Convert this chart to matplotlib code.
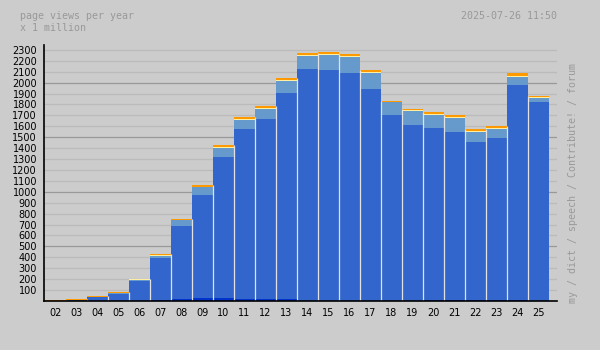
import matplotlib
matplotlib.use("Agg")
import matplotlib.pyplot as plt
import numpy as np

# Page views per year, in millions, stacked by segment
years = ["02", "03", "04", "05", "06", "07", "08", "09", "10", "11", "12", "13",
         "14", "15", "16", "17", "18", "19", "20", "21", "22", "23", "24", "25"]
base = [0, 0, 0, 0, 0, 8, 18, 28, 30, 15, 15, 15,
        0, 0, 0, 0, 0, 0, 5, 5, 5, 5, 5, 0]
main = [3, 9, 33, 66, 182, 382, 665, 940, 1287, 1558, 1650, 1889,
        2124, 2115, 2087, 1940, 1701, 1609, 1578, 1540, 1449, 1486, 1972, 1821]
second = [0, 1, 2, 3, 13, 25, 56, 75, 82, 83, 92, 110,
          119, 137, 147, 147, 120, 130, 119, 129, 92, 82, 73, 37]
thin = [0, 1, 1, 2, 2, 3, 3, 5, 9, 9, 9, 9,
        9, 9, 9, 12, 2, 9, 9, 9, 9, 9, 10, 9]
top = [5, 4, 8, 10, 3, 9, 6, 12, 19, 19, 18, 18,
       19, 19, 18, 18, 7, 9, 18, 19, 18, 19, 27, 9]

series = [base, main, second, thin, top]
colors = ["#0033CC", "#3366CC", "#6699CC", "#FFEFA0", "#FF9900"]

BG = "#CCCCCC"
fig = plt.figure(figsize=(6, 3.5), dpi=100, facecolor=BG)
ax = fig.add_axes([44 / 600, 1 - 301 / 350, (557 - 44) / 600, (301 - 45) / 350])
ax.set_facecolor(BG)

x = np.arange(len(years))
bottom = np.zeros(len(years))
for vals, col in zip(series, colors):
    v = np.array(vals, dtype=float)
    ax.bar(x, v, width=1.0, bottom=bottom, color=col, linewidth=0, zorder=2)
    bottom += v
totals = bottom

# light separators between neighbouring bars
for i in range(len(years) - 1):
    ax.vlines(i + 0.5, 0, min(totals[i], totals[i + 1]), color="#E2E2E2",
              linewidth=0.9, zorder=3)

ax.set_xlim(-0.55, 23.88)
ax.set_ylim(0, 2345)

# horizontal grid: minor every 100, darker every 500
for yv in range(100, 2400, 100):
    major = yv % 500 == 0
    ax.axhline(yv, color="#999999" if major else "#BBBBBB",
               linewidth=0.9, zorder=1)

ax.set_yticks(range(100, 2400, 100))
ax.set_yticklabels([str(v) for v in range(100, 2400, 100)])
ax.set_xticks(x)
ax.set_xticklabels(years)
ax.tick_params(axis="both", length=0, labelsize=7, colors="black")
ax.tick_params(axis="y", pad=5)
ax.tick_params(axis="x", pad=5)

for s in ["top", "right"]:
    ax.spines[s].set_visible(False)
for s in ["left", "bottom"]:
    ax.spines[s].set_color("black")
    ax.spines[s].set_linewidth(1.2)
    ax.spines[s].set_zorder(4)

mono = "DejaVu Sans Mono"
grey = "#999999"
fs = 7.2
fig.text(20 / 600, 1 - 16 / 350, "page views per year", family=mono,
         fontsize=fs, color=grey, va="center", ha="left")
fig.text(20 / 600, 1 - 28 / 350, "x 1 million", family=mono,
         fontsize=fs, color=grey, va="center", ha="left")
fig.text(557 / 600, 1 - 16 / 350, "2025-07-26 11:50", family=mono,
         fontsize=fs, color=grey, va="center", ha="right")
fig.text(573 / 600, 1 - 303 / 350, "my / dict / speech / Contribute! / forum",
         family=mono, fontsize=fs, color=grey, rotation=90,
         va="bottom", ha="center")

fig.savefig("out.png", dpi=100, facecolor=BG)
